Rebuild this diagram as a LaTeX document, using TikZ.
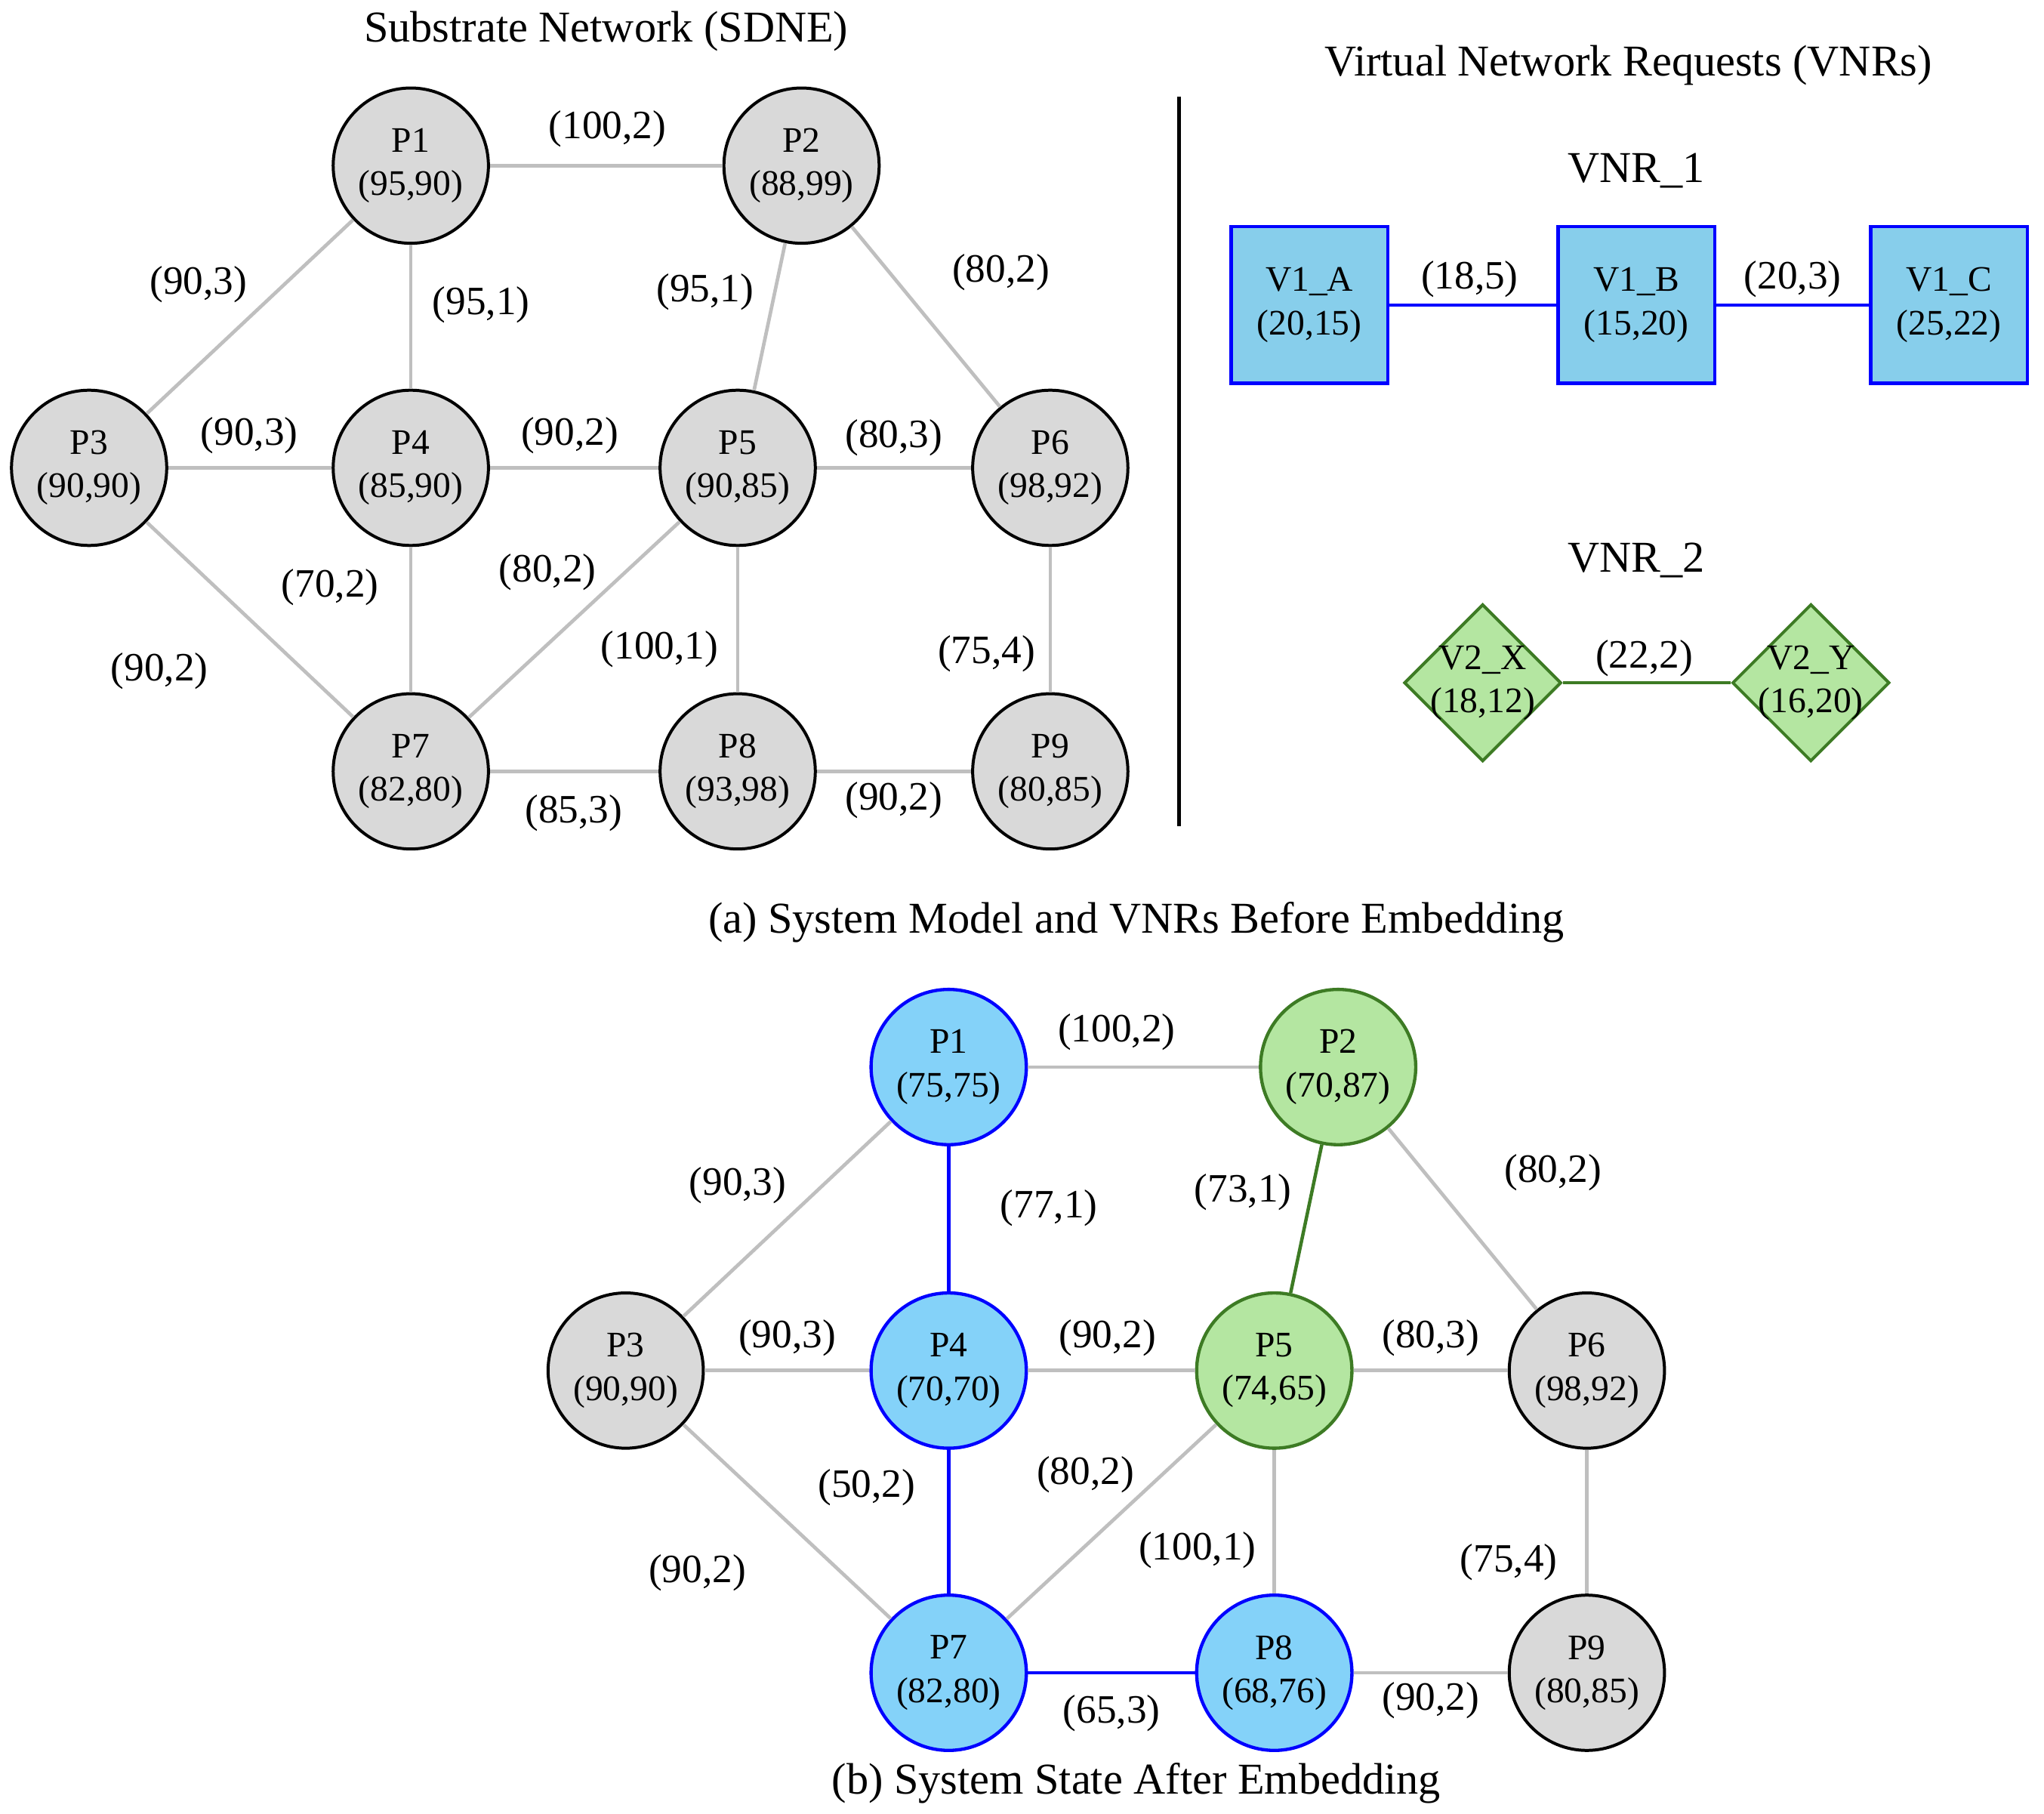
\documentclass[tikz,border=0pt]{standalone}
\usepackage{fontspec}
\setmainfont{Liberation Serif}
\usetikzlibrary{shapes.geometric}
\definecolor{gfill}{HTML}{D9D9D9}
\definecolor{gedge}{HTML}{BFBFBF}
\definecolor{bfill}{HTML}{84D2F9}
\definecolor{rfill}{HTML}{87CEEB}
\definecolor{vfill}{HTML}{B4E6A1}
\definecolor{vdraw}{HTML}{3D7B24}
\begin{document}
\begin{tikzpicture}[x=1pt,y=-1pt,
  nfont/.style={font=\fontsize{27.4}{33}\selectfont},
  efont/.style={font=\fontsize{30.7}{36}\selectfont},
  tfont/.style={font=\fontsize{33.6}{40}\selectfont},
  lowtext/.style={execute at begin node={\rule{0pt}{23.5pt}}},
  pnode/.style={circle, draw=black, fill=gfill, line width=2.3pt, minimum size=118.5pt, inner sep=0pt, align=center, nfont, lowtext},
  bnode/.style={pnode, draw=blue, fill=bfill, line width=2.5pt},
  gnode/.style={pnode, draw=vdraw, fill=vfill, line width=2.5pt},
  rnode/.style={rectangle, draw=blue, fill=rfill, line width=2.4pt, minimum size=119.5pt, inner sep=0pt, align=center, nfont, lowtext},
  dnode/.style={diamond, draw=vdraw, fill=vfill, line width=2.3pt, minimum size=120pt, inner sep=0pt},
  dtext/.style={align=center, nfont, inner sep=0pt, lowtext},
  elab/.style={efont, inner sep=0pt},
  ttl/.style={tfont, inner sep=0pt},
  gline/.style={draw=gedge, line width=2.7pt},
  bline/.style={draw=blue, line width=2.6pt},
  vline/.style={draw=vdraw, line width=2.6pt}]
\useasboundingbox (0,0) rectangle (1560,1384);
\begin{scope}[xshift=0.41pt, yshift=-2.14pt, x=0.994pt, y=-0.994pt]
% ---------- top substrate ----------
\node[ttl] (t1) at (465,22) {Substrate Network (SDNE)};
\node[pnode] (a1) at (315,125) {P1\\(95,90)};
\node[pnode] (a2) at (615,125) {P2\\(88,99)};
\node[pnode] (a3) at (68,357) {P3\\(90,90)};
\node[pnode] (a4) at (315,357) {P4\\(85,90)};
\node[pnode] (a5) at (566,357) {P5\\(90,85)};
\node[pnode] (a6) at (806,357) {P6\\(98,92)};
\node[pnode] (a7) at (315,590) {P7\\(82,80)};
\node[pnode] (a8) at (566,590) {P8\\(93,98)};
\node[pnode] (a9) at (806,590) {P9\\(80,85)};
\draw[gline] (a1) -- (a2);
\draw[gline] (a1) -- (a3);
\draw[gline] (a1) -- (a4);
\draw[gline] (a2) -- (a5);
\draw[gline] (a2) -- (a6);
\draw[gline] (a3) -- (a4);
\draw[gline] (a4) -- (a5);
\draw[gline] (a5) -- (a6);
\draw[gline] (a3) -- (a7);
\draw[gline] (a4) -- (a7);
\draw[gline] (a5) -- (a7);
\draw[gline] (a5) -- (a8);
\draw[gline] (a6) -- (a9);
\draw[gline] (a7) -- (a8);
\draw[gline] (a8) -- (a9);
\node[elab] (la12) at (466,97) {(100,2)};
\node[elab] (la13) at (152,216) {(90,3)};
\node[elab] (la14) at (369,232) {(95,1)};
\node[elab] (la25) at (541,222) {(95,1)};
\node[elab] (la26) at (768,207) {(80,2)};
\node[elab] (la34) at (191,332) {(90,3)};
\node[elab] (la45) at (437,332) {(90,2)};
\node[elab] (la56) at (686,334) {(80,3)};
\node[elab] (la37) at (122,513) {(90,2)};
\node[elab] (la47) at (253,449) {(70,2)};
\node[elab] (la57) at (420,437) {(80,2)};
\node[elab] (la58) at (506,496) {(100,1)};
\node[elab] (la69) at (757,500) {(75,4)};
\node[elab] (la78) at (440,622) {(85,3)};
\node[elab] (la89) at (686,612) {(90,2)};
% ---------- divider ----------
\coordinate (d1) at (905,72);
\coordinate (d2) at (905,632);
\draw[line width=2.7pt] (d1) -- (d2);
% ---------- VNRs ----------
\node[ttl] (t2) at (1250,48) {Virtual Network Requests (VNRs)};
\node[ttl] (t3) at (1256,129) {VNR\_1};
\node[rnode] (va) at (1005,232) {V1\_A\\(20,15)};
\node[rnode] (vb) at (1256,232) {V1\_B\\(15,20)};
\node[rnode] (vc) at (1496,232) {V1\_C\\(25,22)};
\draw[bline] (va) -- (vb);
\draw[bline] (vb) -- (vc);
\node[elab] (lab) at (1128,212) {(18,5)};
\node[elab] (lbc) at (1376,212) {(20,3)};
\node[ttl] (t4) at (1256,428) {VNR\_2};
\node[dnode] (vx) at (1138,522) {};
\node[dnode] (vy) at (1390,522) {};
\node[dtext] (vxt) at (vx) {V2\_X\\(18,12)};
\node[dtext] (vyt) at (vy) {V2\_Y\\(16,20)};
\draw[vline] (vx) -- (vy);
\node[elab] (lxy) at (1262,503) {(22,2)};
\node[ttl] (c1) at (872,706) {(a) System Model and VNRs Before Embedding};
% ---------- bottom ----------
\node[bnode] (b1) at (728,817) {P1\\(75,75)};
\node[gnode] (b2) at (1027,817) {P2\\(70,87)};
\node[pnode] (b3) at (480,1050) {P3\\(90,90)};
\node[bnode] (b4) at (728,1050) {P4\\(70,70)};
\node[gnode] (b5) at (978,1050) {P5\\(74,65)};
\node[pnode] (b6) at (1218,1050) {P6\\(98,92)};
\node[bnode] (b7) at (728,1282) {P7\\(82,80)};
\node[bnode] (b8) at (978,1282) {P8\\(68,76)};
\node[pnode] (b9) at (1218,1282) {P9\\(80,85)};
\draw[gline] (b1) -- (b2);
\draw[gline] (b1) -- (b3);
\draw[bline] (b1) -- (b4);
\draw[vline] (b2) -- (b5);
\draw[gline] (b2) -- (b6);
\draw[gline] (b3) -- (b4);
\draw[gline] (b4) -- (b5);
\draw[gline] (b5) -- (b6);
\draw[gline] (b3) -- (b7);
\draw[bline] (b4) -- (b7);
\draw[gline] (b5) -- (b7);
\draw[gline] (b5) -- (b8);
\draw[gline] (b6) -- (b9);
\draw[bline] (b7) -- (b8);
\draw[gline] (b8) -- (b9);
\node[elab] (lb12) at (857,790) {(100,2)};
\node[elab] (lb13) at (566,908) {(90,3)};
\node[elab] (lb14) at (805,925) {(77,1)};
\node[elab] (lb25) at (954,913) {(73,1)};
\node[elab] (lb26) at (1192,898) {(80,2)};
\node[elab] (lb34) at (604,1025) {(90,3)};
\node[elab] (lb45) at (850,1025) {(90,2)};
\node[elab] (lb56) at (1098,1025) {(80,3)};
\node[elab] (lb47) at (665,1140) {(50,2)};
\node[elab] (lb57) at (833,1130) {(80,2)};
\node[elab] (lb37) at (535,1205) {(90,2)};
\node[elab] (lb58) at (919,1188) {(100,1)};
\node[elab] (lb69) at (1158,1197) {(75,4)};
\node[elab] (lb78) at (853,1313) {(65,3)};
\node[elab] (lb89) at (1098,1303) {(90,2)};
\node[ttl] (c2) at (872,1367) {(b) System State After Embedding};
\end{scope}
\end{tikzpicture}
\end{document}
